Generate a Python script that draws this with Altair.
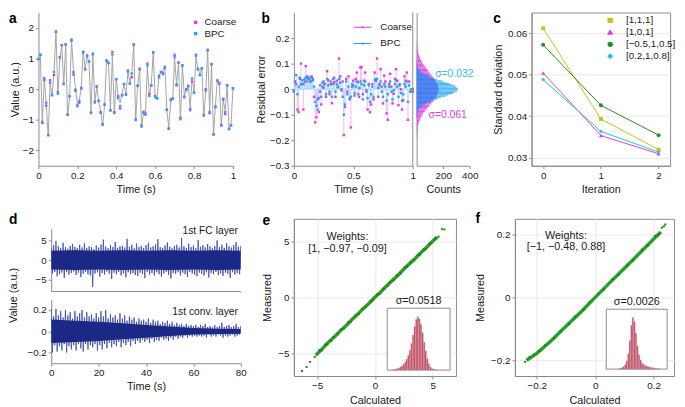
import altair as alt
import pandas as pd

FONT = "Liberation Sans"
AXC = "#8a8a8a"
TXT = "#1a1a1a"
GRID = "#e8e8e8"
MAG = "#e03ce0"
BLU = "#22a6f2"
MAG_L = "#f5aaf5"
BLU_L = "#a8dcfa"
MAG_H = "#e258e2"
BLU_H = "#4cb8f8"
ROYAL = "#4a7cf0"
YEL = "#c9c21d"
GRN = "#1f8f1f"
CYN = "#22c6d4"
NAVY = "#1b2886"
NAVY2 = "#3646a8"
GREEN = "#1d9a1d"
GREEN_D = "#148414"
ROSE = "#b9475f"

# ---------------- data ----------------
time_a = [round(i * 0.01, 2) for i in range(101)]
signal_a = [0.99, 1.09, -1.12, 0.38, -0.45, -1.54, 0.19, -0.22, 0.54, 1.84,
            -0.19, 1.00, 1.39, 0.13, 1.43, -0.88, -0.27, 1.61, 0.61, 0.05,
            -0.48, -0.35, 0.03, 1.25, 0.63, 1.07, 0.88, -0.75, 1.09, -0.45,
            0.10, -0.41, -0.72, -1.18, -0.54, 0.95, 0.83, -0.70, 1.09, -0.80,
            0.33, -0.26, -0.45, -0.13, 0.13, -0.16, 0.56, 0.22, 0.54, 1.44,
            -1.02, 0.13, 0.63, -1.25, -0.77, -0.80, 0.75, -0.24, 0.15, 1.17,
            -0.29, -0.29, 0.47, 0.54, 0.58, 0.75, -0.69, -1.25, -0.40, -0.35,
            1.00, 0.15, 0.85, -1.01, 0.77, -0.21, -0.05, 0.08, -0.59, 0.37,
            -0.13, 1.06, 0.65, 0.51, 0.69, -0.88, -0.08, 1.25, -0.72, 0.80,
            -1.47, -0.51, 0.31, 0.15, -1.20, -0.38, -0.69, 0.10, -1.29, -1.18, 0.03]
coarse_res = [-0.01, 0.03, 0.02, -0.08, -0.09, 0.04, 0.10, 0.02, -0.08, 0.03,
              0.09, 0.05, 0.045, 0.04, 0.03, 0.05, 0.04, -0.03, -0.13, -0.11,
              -0.04, -0.09, -0.01, -0.06, 0.01, 0.03, 0.02, -0.03, 0.07, 0.035,
              -0.02, 0.02, -0.055, 0.04, 0.027, -0.03, 0.033, 0.008, 0.12, 0.05,
              -0.005, 0.03, -0.18, -0.07, 0.04, -0.01, 0.05, -0.04, -0.15, 0.01,
              0.033, -0.025, 0.04, 0.065, 0.027, -0.03, 0.085, 0.087, -0.02, 0.033,
              0.065, -0.005, -0.08, 0.02, -0.09, -0.06, 0.02, -0.04, 0.065, 0.033,
              0.12, -0.03, 0.02, 0.078, 0.01, -0.056, 0.053, 0.03, -0.095, -0.12,
              0.02, 0.06, 0.01, -0.056, -0.018, 0.04, 0.078, 0.033, -0.063, 0.02,
              0.0, -0.08, -0.044, 0.05, 0.033, 0.065, -0.12, 0.03, -0.01, 0.0, -0.01]
bpc_res = [-0.005, 0.03, 0.055, -0.02, 0.01, 0.045, 0.02, 0.035, 0.02, 0.04,
           0.045, 0.03, 0.04, 0.045, 0.03, 0.045, 0.035, 0.01, -0.05, -0.065,
           -0.08, -0.035, 0.015, -0.03, 0.025, 0.005, 0.02, -0.02, 0.04, 0.015,
           -0.01, 0.03, -0.03, 0.02, 0.045, -0.01, 0.02, 0.01, 0.04, 0.025,
           0.0, -0.03, -0.1, -0.06, 0.03, -0.02, 0.01, -0.035, -0.03, 0.02,
           0.015, -0.015, 0.01, 0.03, -0.02, 0.005, 0.03, 0.02, -0.04, 0.015,
           0.03, -0.01, -0.035, 0.015, -0.05, -0.02, 0.01, -0.03, 0.035, 0.04,
           0.04, 0.005, 0.015, 0.03, -0.01, -0.03, 0.02, 0.01, -0.045, -0.02,
           0.01, 0.03, -0.01, -0.04, -0.005, 0.02, 0.035, 0.01, -0.03, 0.015,
           -0.015, -0.045, -0.02, 0.02, 0.01, 0.03, -0.05, 0.015, -0.01, 0.0, 0.0]

# residual histograms (bins of 0.005 from -0.2 to 0.2)
hist_lo = [round(-0.2 + 0.005 * i, 4) for i in range(80)]
coarse_counts = [0, 1, 1, 2, 2, 4, 3, 5, 7, 6, 10, 9, 14, 15, 20, 21, 27, 29, 36, 38,
                 47, 50, 61, 63, 76, 79, 92, 95, 108, 111, 125, 127, 139, 141, 151, 152, 160, 159, 166, 163,
                 167, 161, 163, 155, 152, 145, 140, 132, 127, 119, 116, 104, 100, 90, 86, 78, 72, 62, 57, 50,
                 44, 38, 33, 28, 25, 20, 17, 14, 12, 9, 8, 6, 5, 4, 3, 2, 2, 1, 1, 0]
bpc_counts = [0] * 17 + [1, 1, 2, 4, 5, 8, 10, 17, 23, 35, 44, 64, 79, 106, 125, 159, 182, 218, 238, 270, 284, 304, 307,
                         311, 298, 289, 263, 245, 210, 188, 152, 131, 100, 83, 60, 47, 31, 25, 15, 12, 6, 5, 3, 2, 1, 1] + [0] * 17

# panel c
iterations = [0, 1, 2]
c_series = ["[1,1,1]", "[1,0,1]", "[\u22120.5,1,0.5]", "[0.2,1,0.8]"]
c_values = [[0.0612, 0.0393, 0.0319],
            [0.0504, 0.0353, 0.0309],
            [0.0572, 0.0426, 0.0354],
            [0.0488, 0.0363, 0.0313]]

# panel d (upper / lower envelope each second)
time_d = list(range(81))
fc_hi = [3.2, 3.8, 4.9, 3.5, 3.1, 4.4, 3.3, 2.9, 3.6, 4.1,
         3.4, 3.0, 3.9, 3.2, 4.3, 3.1, 3.5, 3.3, 2.8, 3.7,
         3.2, 4.0, 5.2, 3.4, 3.0, 3.8, 3.3, 4.6, 3.1, 3.5,
         3.6, 3.2, 5.4, 3.4, 3.9, 3.0, 4.2, 3.3, 3.6, 3.1,
         3.8, 4.4, 3.2, 3.5, 4.0, 5.3, 3.3, 3.1, 3.7, 4.5,
         3.4, 3.0, 3.6, 3.9, 3.2, 5.6, 3.5, 3.1, 4.2, 3.3,
         3.7, 3.0, 5.1, 3.4, 3.8, 3.2, 4.1, 3.5, 3.0, 3.6,
         5.0, 3.3, 3.9, 3.1, 4.3, 3.5, 3.2, 3.8, 4.6, 3.4, 3.6]
fc_lo = [-3.4, -3.0, -4.1, -3.6, -3.2, -4.5, -3.1, -3.7, -3.3, -2.9,
         -3.8, -3.2, -4.3, -3.5, -3.0, -3.6, -3.9, -6.8, -3.4, -3.1,
         -4.2, -3.3, -3.7, -2.9, -3.5, -4.8, -3.2, -3.6, -3.0, -3.9,
         -3.4, -4.4, -3.1, -3.6, -3.3, -3.8, -4.0, -3.2, -3.5, -4.6,
         -3.0, -3.7, -3.3, -3.9, -3.1, -3.6, -4.2, -3.4, -3.0, -3.8,
         -4.7, -3.3, -3.5, -3.1, -3.9, -3.2, -3.6, -4.3, -3.0, -3.4,
         -3.7, -4.1, -3.2, -3.5, -3.9, -3.1, -4.4, -3.3, -3.6, -3.0,
         -3.8, -3.4, -4.0, -3.2, -3.5, -4.5, -3.1, -3.7, -3.3, -3.6, -3.2]
conv_hi = [0.22, 0.14, 0.21, 0.15, 0.19, 0.13, 0.2, 0.15, 0.18, 0.12,
           0.19, 0.14, 0.17, 0.2, 0.13, 0.18, 0.14, 0.16, 0.12, 0.17,
           0.13, 0.19, 0.14, 0.2, 0.12, 0.16, 0.13, 0.15, 0.11, 0.17,
           0.12, 0.15, 0.1, 0.14, 0.11, 0.13, 0.09, 0.12, 0.1, 0.11,
           0.09, 0.12, 0.08, 0.11, 0.09, 0.1, 0.07, 0.09, 0.08, 0.1,
           0.07, 0.09, 0.06, 0.08, 0.06, 0.07, 0.05, 0.07, 0.05, 0.06,
           0.05, 0.06, 0.04, 0.06, 0.05, 0.07, 0.04, 0.05, 0.04, 0.06,
           0.04, 0.05, 0.08, 0.04, 0.05, 0.06, 0.04, 0.05, 0.07, 0.04, 0.05]
conv_lo = [-0.2, -0.13, -0.19, -0.14, -0.18, -0.12, -0.2, -0.14, -0.17, -0.13,
           -0.18, -0.12, -0.16, -0.19, -0.12, -0.17, -0.13, -0.15, -0.12, -0.18,
           -0.13, -0.17, -0.12, -0.16, -0.11, -0.15, -0.12, -0.14, -0.1, -0.15,
           -0.11, -0.13, -0.1, -0.14, -0.09, -0.12, -0.09, -0.11, -0.08, -0.1,
           -0.08, -0.11, -0.07, -0.1, -0.08, -0.09, -0.06, -0.08, -0.07, -0.09,
           -0.06, -0.08, -0.05, -0.07, -0.05, -0.06, -0.04, -0.06, -0.04, -0.05,
           -0.04, -0.05, -0.04, -0.05, -0.04, -0.06, -0.03, -0.05, -0.04, -0.05,
           -0.03, -0.04, -0.06, -0.04, -0.05, -0.04, -0.03, -0.05, -0.04, -0.03, -0.04]
core_t = [0, 10, 20, 30, 40, 50, 60, 70, 80]
fc_core = [2.4, 2.5, 2.4, 2.5, 2.4, 2.5, 2.4, 2.5, 2.4]
conv_core = [0.11, 0.1, 0.09, 0.075, 0.06, 0.045, 0.03, 0.025, 0.022]

# panel e
e_band_x = [-5.1, -4.5, -4.0, -3.5, -3.0, -2.5, -2.0, -1.5, -1.0, -0.5, 0.0,
            0.5, 1.0, 1.5, 2.0, 2.5, 3.0, 3.5, 4.0, 4.5, 5.0, 5.4]
e_band_y = [-5.15, -4.52, -3.97, -3.53, -2.98, -2.52, -1.99, -1.51, -0.98, -0.52, 0.01,
            0.49, 1.02, 1.5, 1.98, 2.53, 3.01, 3.49, 4.02, 4.48, 5.03, 5.38]
e_pts_x = [-5.2, -4.8, -4.6, -4.3, -4.1, -3.8, -3.6, -3.2, -2.9, -2.7, -2.3, -2.1, -1.7, -1.4, -1.1,
           -0.8, -0.4, -0.2, 0.2, 0.4, 0.7, 1.1, 1.3, 1.6, 1.9, 2.2, 2.6, 2.8, 3.1, 3.4, 3.7, 3.9,
           4.2, 4.4, 4.7, 4.9, 5.2, 5.5, 5.8, 6.0, -6.3, -5.9, -5.6]
e_pts_y = [-5.3, -4.7, -4.72, -4.2, -4.18, -3.9, -3.52, -3.28, -2.84, -2.78, -2.22, -2.18, -1.62, -1.48, -1.03,
           -0.87, -0.33, -0.27, 0.26, 0.33, 0.78, 1.02, 1.38, 1.53, 1.98, 2.13, 2.68, 2.72, 3.18, 3.33, 3.78, 3.83,
           4.28, 4.33, 4.78, 4.84, 5.27, 5.42, 6.1, 6.05, -6.55, -6.2, -5.75]
e_err_lo = [round(-0.2 + 0.01 * i, 3) for i in range(40)]
e_err_counts = [0, 0, 0, 1, 1, 2, 3, 4, 6, 8, 11, 15, 21, 28, 37, 50, 66, 82, 95, 100,
                96, 86, 70, 52, 36, 22, 12, 6, 3, 2, 1, 1, 0, 0, 0, 0, 0, 0, 0, 0]

# panel f
f_band_x = [-0.235, -0.2, -0.15, -0.1, -0.05, 0.0, 0.05, 0.1, 0.15, 0.2, 0.225]
f_band_y = [-0.2, -0.178, -0.137, -0.092, -0.047, 0.0, 0.047, 0.093, 0.139, 0.186, 0.208]
f_pts_x = [-0.24, -0.225, -0.21, -0.19, -0.17, -0.14, -0.12, -0.09, -0.07, -0.04, -0.02, 0.01,
           0.03, 0.06, 0.08, 0.11, 0.13, 0.16, 0.18, 0.205, 0.215, 0.228, 0.235, 0.24]
f_pts_y = [-0.205, -0.19, -0.182, -0.17, -0.152, -0.13, -0.108, -0.085, -0.061, -0.04, -0.015, 0.012,
           0.025, 0.058, 0.072, 0.104, 0.118, 0.152, 0.164, 0.196, 0.2, 0.222, 0.226, 0.232]
f_err_lo = [round(-0.012 + 0.0006 * i, 5) for i in range(40)]
f_err_counts = [0, 0, 0, 0, 0, 0, 0, 0, 1, 2, 3, 5, 9, 16, 30, 55, 85, 100, 92, 70,
                45, 28, 18, 12, 9, 7, 6, 5, 4, 3, 3, 2, 2, 1, 1, 0, 0, 0, 0, 0]


# ---------------- helpers ----------------
def ax(**kw):
    d = dict(domainColor=AXC, tickColor=AXC, tickSize=3, labelFontSize=10, labelColor=TXT,
             titleFontSize=11, titleFontWeight="normal", titleColor=TXT, grid=False,
             labelFont=FONT, titleFont=FONT, labelPadding=2, titlePadding=4,
             labelOverlap=False, labelFlush=False, format="~r")
    d.update(kw)
    return alt.Axis(**d)


one = pd.DataFrame({"k": [0]})


def letter(txt, x, y):
    return alt.Chart(one).mark_text(text=txt, font=FONT, fontSize=14, fontWeight="bold",
                                    align="left", baseline="top", color="#000").encode(
        x=alt.value(x), y=alt.value(y))


def spacer(w, h=1):
    return alt.Chart(one).mark_point(size=1, opacity=0).encode(
        x=alt.value(0.5), y=alt.value(0.5)).properties(width=w, height=h)


IND = dict(color="independent", shape="independent")

# ---------------- panel a ----------------
df_a = pd.DataFrame({"t": time_a, "true": signal_a})
rows = []
for name, res in (("Coarse", coarse_res), ("BPC", bpc_res)):
    for t, s, r in zip(time_a, signal_a, res):
        rows.append({"t": t, "v": s + r, "s": name, "res": r,
                     "lc": MAG_L if name == "Coarse" else BLU_L})
pts = pd.DataFrame(rows)

xa_sc = alt.Scale(domain=[0, 1], nice=False)
ya_sc = alt.Scale(domain=[-2.5, 2.5], nice=False)
xa_ax = ax(values=[0, 0.2, 0.4, 0.6, 0.8, 1], title="Time (s)", titlePadding=3)
ya_ax = ax(values=[-2, -1, 0, 1, 2], title="Value (a.u.)", titlePadding=2)
a_line = alt.Chart(df_a).mark_line(color="#a3a3a3", strokeWidth=1).encode(
    x=alt.X("t:Q", scale=xa_sc, axis=xa_ax), y=alt.Y("true:Q", scale=ya_sc, axis=ya_ax))
a_pts = alt.Chart(pts).mark_square(size=6, opacity=1).encode(
    x=alt.X("t:Q", scale=xa_sc, axis=xa_ax), y=alt.Y("v:Q", scale=ya_sc, axis=ya_ax),
    color=alt.Color("s:N", scale=alt.Scale(domain=["Coarse", "BPC"], range=[MAG, BLU]),
                    legend=alt.Legend(title=None, orient="none", legendX=155, legendY=5,
                                      symbolType="square", symbolSize=12, labelFontSize=10,
                                      labelFont=FONT, labelColor=TXT, rowPadding=1.5, padding=0,
                                      labelOffset=4)))
panel_a = alt.layer(a_line, a_pts, letter("a", -30, 0)).properties(width=198, height=156)

# ---------------- panel b ----------------
xb_sc = alt.Scale(domain=[0, 1], nice=False)
yb_sc = alt.Scale(domain=[-0.3, 0.3], nice=False)
xb_ax = ax(values=[0, 0.5, 1], title="Time (s)", titlePadding=3)
yb_ax = ax(values=[-0.3, -0.2, -0.1, 0, 0.1, 0.2], title="Residual error", titlePadding=3)
b_stem = alt.Chart(pts).mark_rule(strokeWidth=0.8).encode(
    x=alt.X("t:Q", scale=xb_sc, axis=xb_ax), y=alt.Y("res:Q", scale=yb_sc, axis=yb_ax),
    y2=alt.datum(0), stroke=alt.Stroke("lc:N", scale=None))
b_zero = alt.Chart(one).mark_rule(color=BLU_L, strokeWidth=1.2).encode(
    y=alt.YDatum(0, type="quantitative", scale=yb_sc, axis=yb_ax))
b_pts = alt.Chart(pts).mark_square(size=6, opacity=1).encode(
    x=alt.X("t:Q", scale=xb_sc, axis=xb_ax), y=alt.Y("res:Q", scale=yb_sc, axis=yb_ax),
    color=alt.Color("s:N", scale=alt.Scale(domain=["Coarse", "BPC"], range=[MAG, BLU]),
                    legend=alt.Legend(title=None, orient="none", legendX=60, legendY=5,
                                      symbolType="M-1,-0.06H1V0.06H-1Z M-0.11,-0.11H0.11V0.11H-0.11Z",
                                      symbolSize=324, labelFontSize=10,
                                      labelFont=FONT, labelColor=TXT, rowPadding=1.5, padding=0,
                                      labelOffset=8)))
b_right = alt.Chart(one).mark_rule(color=AXC, strokeWidth=1).encode(
    x=alt.XDatum(1, type="quantitative", scale=xb_sc, axis=xb_ax))
panel_b = alt.layer(b_stem, b_zero, b_pts, b_right, letter("b", -33, 0)).properties(width=121, height=156)

df_h = pd.DataFrame({"lo": hist_lo, "hi": [round(v + 0.005, 4) for v in hist_lo],
                     "coarse": coarse_counts, "bpc": bpc_counts,
                     "both": [min(c, b) for c, b in zip(coarse_counts, bpc_counts)]})
yh_sc = alt.Scale(domain=[-0.3, 0.3], nice=False)
yh_ax = ax(labels=False, ticks=False, title=None)
xh_sc = alt.Scale(domain=[0, 400], nice=False)
xh_ax = ax(values=[200, 400], title="Counts", titlePadding=3)


def hbar(field, color):
    return alt.Chart(df_h).mark_rect(color=color).encode(
        x=alt.X(field + ":Q", scale=xh_sc, axis=xh_ax), x2=alt.datum(0),
        y=alt.Y("lo:Q", scale=yh_sc, axis=yh_ax), y2="hi:Q")


def htext(txt, color, cx, cy):
    return alt.Chart(one).mark_text(text=txt, font=FONT, fontSize=10.5, align="left",
                                    baseline="middle", color=color).encode(
        x=alt.XDatum(cx, type="quantitative", scale=xh_sc, axis=xh_ax),
        y=alt.YDatum(cy, type="quantitative", scale=yh_sc, axis=yh_ax))


panel_h = alt.layer(hbar("coarse", MAG_H), hbar("bpc", BLU_H), hbar("both", ROYAL),
                    htext("\u03c3=0.032", "#3fb2f5", 140, 0.059),
                    htext("\u03c3=0.061", MAG, 90, -0.1)).properties(width=54, height=156)

# ---------------- panel c ----------------
rows_c = []
for name, vals in zip(c_series, c_values):
    for it, v in zip(iterations, vals):
        rows_c.append({"it": it, "v": v, "sc": name})
df_c = pd.DataFrame(rows_c)
cs = alt.Scale(domain=c_series, range=[YEL, MAG, GRN, CYN])
shs = alt.Scale(domain=c_series, range=["square", "triangle-up", "circle", "diamond"])
xc_sc = alt.Scale(domain=[-0.2, 2.2], nice=False)
yc_sc = alt.Scale(domain=[0.028, 0.065], nice=False)
xc_ax = ax(values=[0, 1, 2], title="Iteration", titlePadding=3)
yc_ax = ax(values=[0.03, 0.04, 0.05, 0.06], title="Standard deviation", grid=True, gridColor=GRID,
           titlePadding=4)
leg_c = alt.Legend(title=None, orient="none", legendX=75, legendY=3, symbolSize=16,
                   labelFontSize=10, labelFont=FONT, labelColor=TXT, rowPadding=2.2,
                   padding=0, labelOffset=11)
c_lines = alt.Chart(df_c).mark_line(strokeWidth=1).encode(
    x=alt.X("it:Q", scale=xc_sc, axis=xc_ax), y=alt.Y("v:Q", scale=yc_sc, axis=yc_ax),
    color=alt.Color("sc:N", scale=cs, legend=leg_c), detail="sc:N")
c_pts = alt.Chart(df_c).mark_point(filled=True, size=16, opacity=1).encode(
    x=alt.X("it:Q", scale=xc_sc, axis=xc_ax), y=alt.Y("v:Q", scale=yc_sc, axis=yc_ax),
    color=alt.Color("sc:N", scale=cs, legend=leg_c),
    shape=alt.Shape("sc:N", scale=shs, legend=leg_c))
panel_c = alt.layer(c_lines, c_pts, letter("c", -39, 0)).properties(
    width=141, height=156, view=alt.ViewBackground(stroke=AXC, strokeWidth=1))

# ---------------- panel d (two stacked traces in one view) ----------------
def zig(hi, lo):
    tt, vv = [], []
    for k, h, l in zip(time_d, hi, lo):
        tt += [k, k + 0.5]
        vv += [h, l]
    return pd.DataFrame({"t": tt, "v": vv})


core_fc_df = pd.DataFrame({"t": core_t, "v": fc_core, "n": [-c for c in fc_core]})
core_cv_df = pd.DataFrame({"t": core_t, "v": conv_core, "n": [-c for c in conv_core]})

xd_sc = alt.Scale(domain=[0, 80], nice=False)
yd1_sc = alt.Scale(domain=[-8, 8], range=[74, 10], nice=False)
yd1_ax = ax(values=[-5, 0, 5], title=None, orient="left", offset=0)
d_top = alt.layer(
    alt.Chart(zig(fc_hi, fc_lo)).mark_line(color=NAVY2, strokeWidth=0.8, clip=True).encode(
        x=alt.X("t:Q", scale=xd_sc, axis=None), y=alt.Y("v:Q", scale=yd1_sc, axis=yd1_ax)),
    alt.Chart(core_fc_df).mark_area(color=NAVY, clip=True).encode(
        x=alt.X("t:Q", scale=xd_sc, axis=None), y=alt.Y("v:Q", scale=yd1_sc, axis=yd1_ax), y2="n:Q"),
    alt.Chart(one).mark_rule(color=AXC, strokeWidth=1).encode(
        y=alt.YDatum(-8, type="quantitative", scale=yd1_sc, axis=yd1_ax)),
    alt.Chart(one).mark_text(text="1st FC layer", font=FONT, fontSize=10.5, align="right",
                             baseline="middle", color=TXT).encode(
        x=alt.XDatum(78.8, type="quantitative", scale=xd_sc, axis=None),
        y=alt.YDatum(7.5, type="quantitative", scale=yd1_sc, axis=yd1_ax)),
)
yd2_sc = alt.Scale(domain=[-0.3, 0.3], range=[147, 82], nice=False)
xd2_ax = ax(values=[0, 20, 40, 60, 80], title="Time (s)", titlePadding=3, orient="bottom")
yd2_ax = ax(values=[-0.2, 0, 0.2], title=None, orient="left", offset=0)
d_bot = alt.layer(
    alt.Chart(zig(conv_hi, conv_lo)).mark_line(color=NAVY2, strokeWidth=0.8, clip=True).encode(
        x=alt.X("t:Q", scale=xd_sc, axis=xd2_ax), y=alt.Y("v:Q", scale=yd2_sc, axis=yd2_ax)),
    alt.Chart(core_cv_df).mark_area(color=NAVY, clip=True).encode(
        x=alt.X("t:Q", scale=xd_sc, axis=xd2_ax), y=alt.Y("v:Q", scale=yd2_sc, axis=yd2_ax), y2="n:Q"),
    alt.Chart(one).mark_text(text="1st conv. layer", font=FONT, fontSize=10.5, align="right",
                             baseline="middle", color=TXT).encode(
        x=alt.XDatum(78.8, type="quantitative", scale=xd_sc, axis=xd2_ax),
        y=alt.YDatum(0.18, type="quantitative", scale=yd2_sc, axis=yd2_ax)),
)
d_deco = alt.layer(
    letter("d", -43, -6),
    alt.Chart(one).mark_text(text="Value (a.u.)", font=FONT, fontSize=11, angle=270, align="center",
                             baseline="middle", color=TXT).encode(x=alt.value(-38), y=alt.value(78)),
)
panel_d = alt.layer(d_top, d_bot, d_deco).resolve_scale(x="independent", y="independent").properties(
    width=193, height=147)


# ---------------- panels e / f ----------------
def scatter_panel(bx, by, px, py, dom, ticks, err_lo, err_w, err_counts, err_dom, inset_x, inset_y,
                  sigma, weights, wpos, let, letpos, w, h):
    band = pd.DataFrame({"x": bx, "y": by})
    sc = pd.DataFrame({"x": px, "y": py})
    xs = alt.Scale(domain=dom[0], nice=False)
    ys = alt.Scale(domain=dom[1], nice=False)
    xax = ax(values=ticks, title="Calculated", grid=True, gridColor=GRID, titlePadding=4)
    yax = ax(values=ticks, title="Measured", grid=True, gridColor=GRID, titlePadding=5)
    main = alt.layer(
        alt.Chart(band).mark_line(color=GREEN, strokeWidth=3.5, opacity=0.95).encode(
            x=alt.X("x:Q", scale=xs, axis=xax), y=alt.Y("y:Q", scale=ys, axis=yax)),
        alt.Chart(sc).mark_square(size=4, color=GREEN_D, opacity=1).encode(
            x=alt.X("x:Q", scale=xs, axis=xax), y=alt.Y("y:Q", scale=ys, axis=yax)),
        alt.Chart(one).mark_text(text=weights, font=FONT, fontSize=11, align="center",
                                 baseline="top", lineHeight=12, color=TXT).encode(
            x=alt.XDatum(wpos[0], type="quantitative", scale=xs, axis=xax),
            y=alt.YDatum(wpos[1], type="quantitative", scale=ys, axis=yax)),
        letter(let, letpos[0], letpos[1]),
    )
    ix = alt.Scale(domain=err_dom, range=inset_x, nice=False, zero=False)
    iy = alt.Scale(domain=[0, 116], range=inset_y, nice=False, zero=False)
    herr = pd.DataFrame({"lo": err_lo, "hi": [round(v + err_w, 6) for v in err_lo], "n": err_counts})
    inset = alt.layer(
        alt.Chart(one).mark_rect(fill="white", stroke=AXC, strokeWidth=1).encode(
            x=alt.XDatum(err_dom[0], type="quantitative", scale=ix, axis=None),
            x2=alt.datum(err_dom[1]),
            y=alt.YDatum(0, type="quantitative", scale=iy, axis=None),
            y2=alt.datum(116)),
        alt.Chart(herr).mark_rect(color=ROSE, stroke="#e9b9c3", strokeWidth=0.3).encode(
            x="lo:Q", x2="hi:Q", y="n:Q", y2=alt.datum(0)),
        alt.Chart(one).mark_text(text=sigma, font=FONT, fontSize=11, align="center",
                                 baseline="middle", color=TXT).encode(
            x=alt.datum((err_dom[0] + err_dom[1]) / 2), y=alt.datum(129)),
    )
    return alt.layer(main, inset).resolve_scale(x="independent", y="independent").properties(
        width=w, height=h, view=alt.ViewBackground(stroke=AXC, strokeWidth=1))


panel_e = scatter_panel(e_band_x, e_band_y, e_pts_x, e_pts_y, ([-7, 7], [-7, 7]), [-5, 0, 5],
                        e_err_lo, 0.01, e_err_counts, [-0.2, 0.2], [95, 159], [154, 91],
                        "\u03c3=0.0518", ["Weights:", "[1, \u22120.97, \u22120.09]"], (-2.37, 5.9),
                        "e", (-32, -5), 165, 160)
panel_f = scatter_panel(f_band_x, f_band_y, f_pts_x, f_pts_y, ([-0.275, 0.27], [-0.25, 0.25]), [-0.2, 0, 0.2],
                        f_err_lo, 0.0006, f_err_counts, [-0.012, 0.012], [93, 155], [153, 92],
                        "\u03c3=0.0026", ["Weights:", "[\u22121, \u22120.48, 0.88]"], (-0.1, 0.215),
                        "f", (-40, -7), 162, 160)

# ---------------- layout ----------------
row1 = alt.hconcat(panel_a, spacer(62), panel_b, spacer(4), panel_h, spacer(63), panel_c,
                   spacing=0, bounds="flush").resolve_scale(**IND)
row2 = alt.hconcat(spacer(13), panel_d, spacer(54), panel_e, spacer(60), panel_f,
                   spacing=0, bounds="flush")

chart = alt.vconcat(row1, row2, spacing=16, padding=0, background="white").resolve_scale(
    **IND).configure_view(stroke=None).configure_text(font=FONT).configure_axis(labelOverlap=False)

chart.save("out.html", embed_options={"renderer": "svg", "actions": False})
